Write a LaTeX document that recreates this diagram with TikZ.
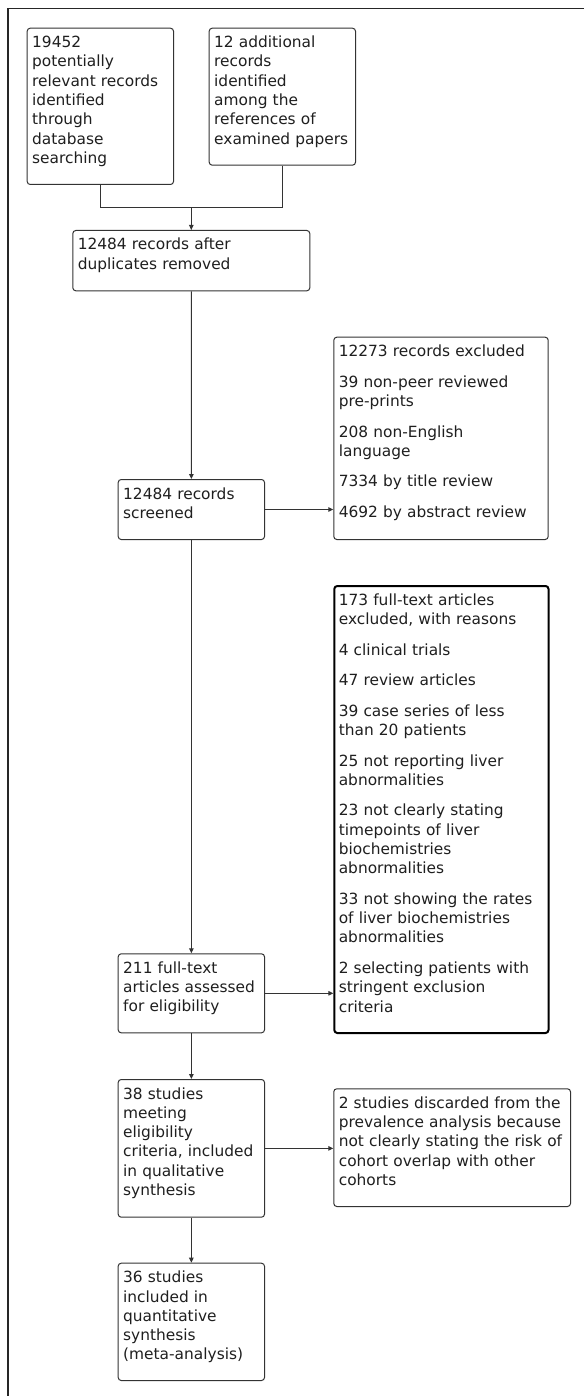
\documentclass[tikz,border=0pt]{standalone}
\usepackage{fontspec}
\setmainfont{DejaVu Sans}
\usetikzlibrary{arrows.meta,calc}
\begin{document}
\begin{tikzpicture}[x=1pt,y=-1pt,
  box/.style={draw=black!80, line width=1pt, rounded corners=3pt, inner sep=0pt, anchor=north west},
  thickbox/.style={box, draw=black, line width=2pt},
  txt/.style={anchor=base west, inner sep=0pt, text width=300pt, align=left,
              font=\fontsize{15.4}{19.3}\selectfont, text=black!88},
  conn/.style={draw=black!80, line width=1pt},
  arr/.style={conn, -{Triangle[length=5pt,width=4.5pt]}}]
\useasboundingbox (0,0) rectangle (584,1396);
\fill[white] (0,0) rectangle (584,1396);
% outer frame (top and left edges visible)
\draw[line width=1.6pt, black!85] (584,8.5) -- (8,8.5) -- (8,1396);

% boxes
\node[box, minimum width=146.3pt, minimum height=156.3pt] (a) at (26.7,27.7) {};
\node[box, minimum width=146.3pt, minimum height=137pt]   (b) at (208.7,27.7) {};
\node[box, minimum width=237pt,   minimum height=60.3pt]  (c) at (72.3,230) {};
\node[box, minimum width=146.3pt, minimum height=60pt]    (d) at (117.7,479) {};
\node[box, minimum width=214.4pt, minimum height=202.3pt] (e) at (333.3,336.7) {};
\node[thickbox, minimum width=214.2pt, minimum height=447pt] (f) at (333.3,585) {};
\node[box, minimum width=146.3pt, minimum height=79pt]    (g) at (117.7,953.3) {};
\node[box, minimum width=146.3pt, minimum height=137.7pt] (h) at (117.7,1079) {};
\node[box, minimum width=236.7pt, minimum height=117.7pt] (i) at (333.3,1088.3) {};
\node[box, minimum width=146.3pt, minimum height=117.3pt] (j) at (117.7,1262.7) {};

% texts
\node[txt] (ta) at ($(a.north west)+(5.3,20)$) {19452\\potentially\\relevant records\\identified\\through\\database\\searching};
\node[txt] (tb) at ($(b.north west)+(5.3,20)$) {12 additional\\records\\identified\\among the\\references of\\examined papers};
\node[txt] (tc) at ($(c.north west)+(5.3,20)$) {12484 records after\\duplicates removed};
\node[txt] (td) at ($(d.north west)+(5.3,20)$) {12484 records\\screened};
\node[txt] (te) at ($(e.north west)+(5.3,20)$) {12273 records excluded\\[11.2pt]39 non-peer reviewed\\pre-prints\\[11.2pt]208 non-English\\language\\[11.2pt]7334 by title review\\[11.2pt]4692 by abstract review};
\node[txt] (tf) at ($(f.north west)+(5.3,20.5)$) {173 full-text articles\\excluded, with reasons\\[11.2pt]4 clinical trials\\[11.2pt]47 review articles\\[11.2pt]39 case series of less\\than 20 patients\\[11.2pt]25 not reporting liver\\abnormalities\\[11.2pt]23 not clearly stating\\timepoints of liver\\biochemistries\\abnormalities\\[11.2pt]33 not showing the rates\\of liver biochemistries\\abnormalities\\[11.2pt]2 selecting patients with\\stringent exclusion\\criteria};
\node[txt] (tg) at ($(g.north west)+(5.3,20)$) {211 full-text\\articles assessed\\for eligibility};
\node[txt] (th) at ($(h.north west)+(5.3,20)$) {38 studies\\meeting\\eligibility\\criteria, included\\in qualitative\\synthesis};
\node[txt] (ti) at ($(i.north west)+(5.3,20)$) {2 studies discarded from the\\prevalence analysis because\\not clearly stating the risk of\\cohort overlap with other\\cohorts};
\node[txt] (tj) at ($(j.north west)+(5.3,20)$) {36 studies\\included in\\quantitative\\synthesis\\(meta-analysis)};

% connectors
\coordinate (m) at ($(c.north)+(0,-22.7)$);
\draw[conn] (a.south) |- (m);
\draw[conn] (b.south) |- (m);
\draw[arr] (m) -- (c.north);
\draw[arr] (c.south) -- (d.north);
\draw[arr] (d.east) -- (d.east -| e.west);
\draw[arr] (d.south) -- (g.north);
\draw[arr] (g.east) -- (g.east -| f.west);
\draw[arr] (g.south) -- (h.north);
\draw[arr] (h.east) -- (h.east -| i.west);
\draw[arr] (h.south) -- (j.north);
\end{tikzpicture}
\end{document}
